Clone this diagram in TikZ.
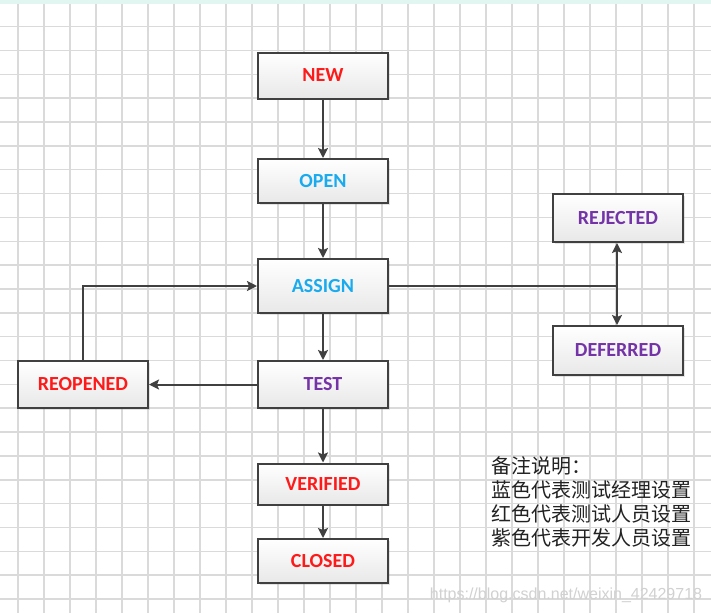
\documentclass[tikz,border=0pt]{standalone}
\usepackage{fontspec}
\setmainfont{Carlito}
\newfontfamily\cjk{Noto Sans CJK SC}
\newfontfamily\wmfont{Liberation Sans}
\usetikzlibrary{arrows.meta,shadows}
\definecolor{gridc}{HTML}{DADADA}
\definecolor{bandc}{HTML}{E1F6F0}
\definecolor{linec}{HTML}{404040}
\definecolor{redc}{HTML}{FF1A1A}
\definecolor{bluec}{HTML}{1AABEF}
\definecolor{purplec}{HTML}{7434A8}
\definecolor{notec}{HTML}{222222}
\tikzset{
  statebox/.style={draw=linec, line width=2pt, top color=white, bottom color=black!9,
    minimum width=130pt, inner sep=0pt, font=\bfseries\fontsize{20}{22}\selectfont,
    drop shadow={shadow xshift=1.5pt, shadow yshift=-1.5pt, opacity=0.2}},
  conn/.style={draw=linec, line width=2pt, -{Stealth[length=10pt,width=10pt,inset=2pt]}},
  plain/.style={draw=linec, line width=2pt},
}
\begin{document}
\begin{tikzpicture}[x=1pt,y=-1pt]
\useasboundingbox (0,0) rectangle (711,613);
\fill[white] (0,0) rectangle (711,613);
% grid
\foreach \k in {0,...,26} {
  \draw[gridc, line width=1.5pt] ({18+26*\k},0) -- ({18+26*\k},613);
}
\foreach \k in {0,...,24} {
  \draw[gridc, line width=1.5pt] (0,{26.6+23.85*\k}) -- (711,{26.6+23.85*\k});
}
\fill[bandc] (0,0) rectangle (711,3.5);
% nodes
\node[statebox, minimum height=46pt, text=redc] (new) at (323,75.5) {NEW};
\node[statebox, minimum height=44pt, text=bluec] (open) at (323,181) {OPEN};
\node[statebox, minimum height=54pt, text=bluec] (assign) at (323,286) {ASSIGN};
\node[statebox, minimum height=47pt, text=purplec] (test) at (323,384.5) {TEST};
\node[statebox, minimum height=41pt, text=redc] (verified) at (323,484) {VERIFIED};
\node[statebox, minimum height=44pt, text=redc] (closed) at (323,561) {CLOSED};
\node[statebox, minimum height=47pt, text=redc] (reopened) at (83,384.5) {REOPENED};
\node[statebox, minimum height=48pt, text=purplec] (rejected) at (618,218) {REJECTED};
\node[statebox, minimum height=49pt, text=purplec] (deferred) at (618,350.5) {DEFERRED};
\coordinate (j) at (617,286);
% connectors
\draw[conn] (new) -- (open);
\draw[conn] (open) -- (assign);
\draw[conn] (assign) -- (test);
\draw[conn] (test) -- (verified);
\draw[conn] (verified) -- (closed);
\draw[conn] (test) -- (reopened);
\draw[conn] (reopened.north) |- (assign.west);
\draw[plain] (assign.east) -- (j);
\draw[conn] (j) -- (j |- rejected.south);
\draw[conn] (j) -- (j |- deferred.north);
% note
\node[anchor=north west, align=left, inner sep=0pt, text=notec,
  font=\cjk\fontsize{20}{24.3}\selectfont] (note) at (491,456)
  {备注说明：\\蓝色代表测试经理设置\\红色代表测试人员设置\\紫色代表开发人员设置};
% watermark
\node[text=black!18, font=\wmfont\fontsize{16}{18}\selectfont, inner sep=0pt] (wm) at (566,595)
  {https://blog.csdn.net/weixin\_42429718};
\end{tikzpicture}
\end{document}
